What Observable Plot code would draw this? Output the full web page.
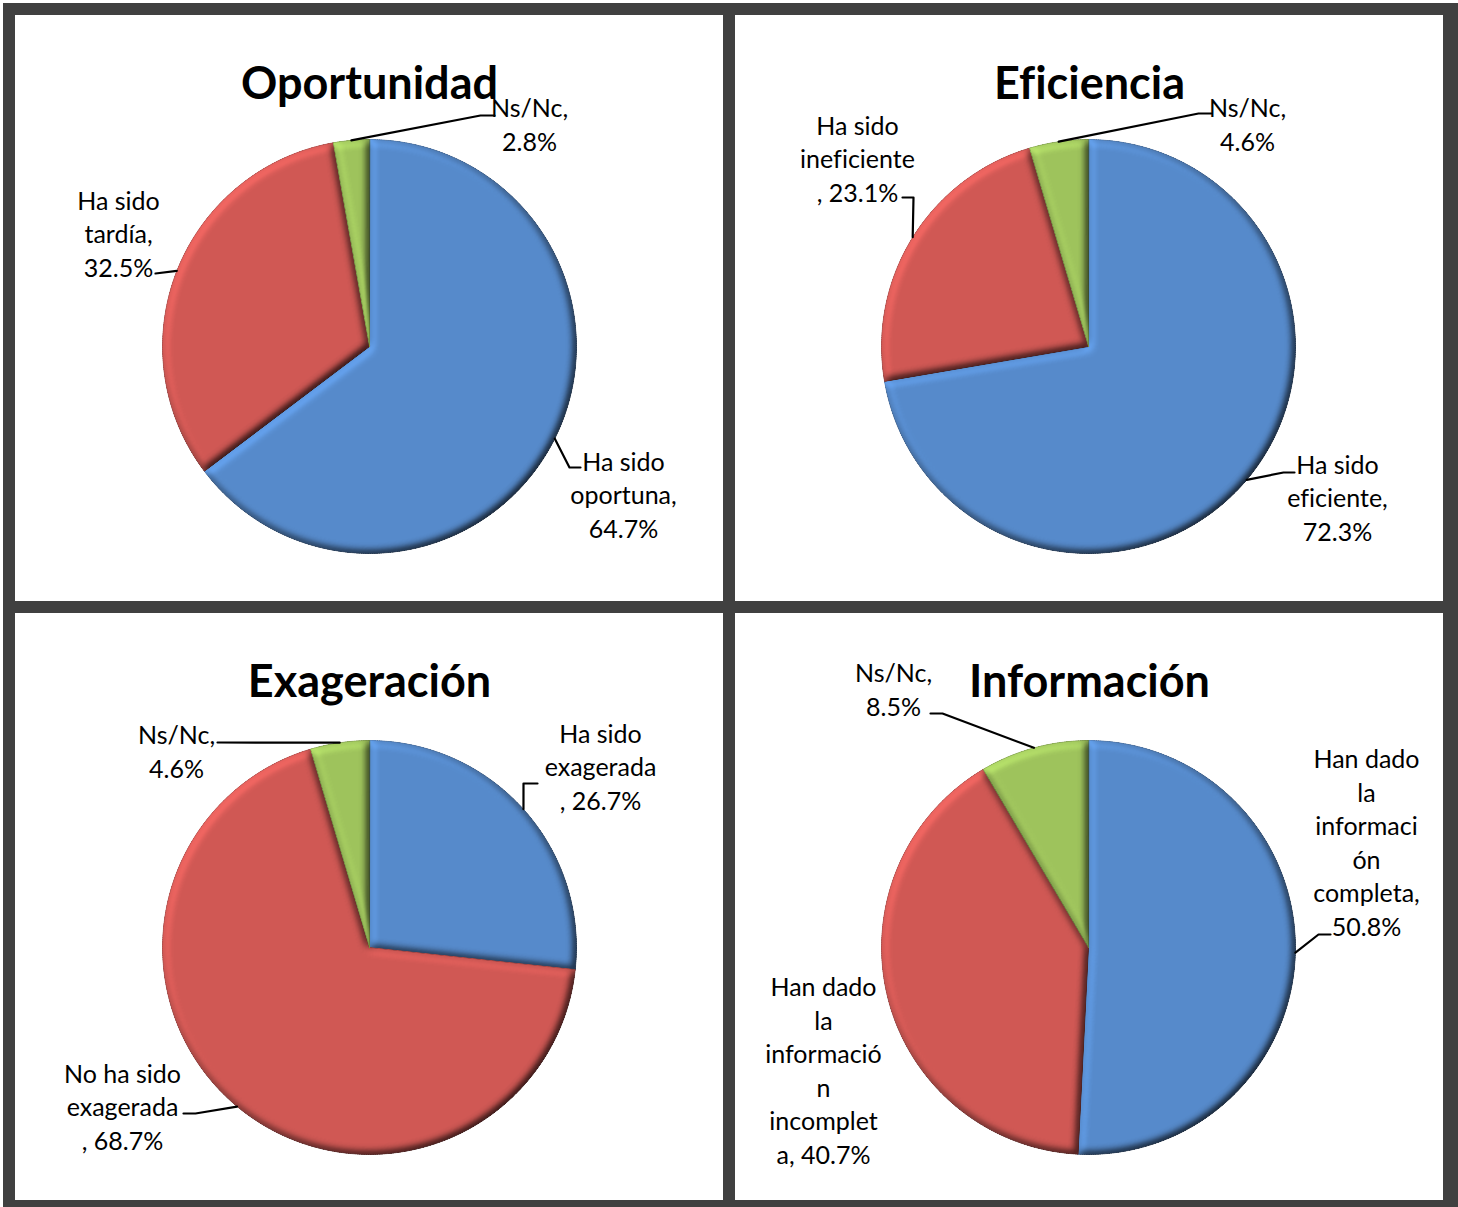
<!DOCTYPE html>
<html>
<head>
<meta charset="utf-8">
<script src="https://cdn.jsdelivr.net/npm/d3@7"></script>
<script src="https://cdn.jsdelivr.net/npm/@observablehq/plot@0.6"></script>
<style>
  html, body { margin: 0; padding: 0; background: #ffffff; }
  body { width: 1458px; height: 1207px; position: relative; overflow: hidden; }
  #frame { position: absolute; left: 3px; top: 3px; width: 1455px; height: 1204px; background: #404040; }
  .panel { position: absolute; background: #ffffff; overflow: hidden; }
  .panel svg { display: block; font-variant-ligatures: none; font-feature-settings: "liga" 0, "clig" 0; }
  .panel svg text { font-variant-ligatures: none; font-feature-settings: "liga" 0, "clig" 0; }
</style>
</head>
<body>
<svg width="0" height="0" style="position:absolute">
  <defs>
    <filter id="bevel" x="-10%" y="-10%" width="120%" height="120%" color-interpolation-filters="sRGB">
      <feGaussianBlur in="SourceAlpha" stdDeviation="4" result="blur"/>
      <feDiffuseLighting in="blur" surfaceScale="5" diffuseConstant="1" lighting-color="#ffffff" result="light">
        <feDistantLight azimuth="225" elevation="60"/>
      </feDiffuseLighting>
      <feComposite in="SourceGraphic" in2="light" operator="arithmetic" k1="1.155" k2="0" k3="0" k4="0" result="lit"/>
      <feComposite in="lit" in2="SourceAlpha" operator="in"/>
    </filter>
  </defs>
</svg>
<div id="frame"></div>
<script>
// ---------------- DATA ----------------
const chartTitles = ["Oportunidad", "Eficiencia", "Exageración", "Información"];

const categoriesOportunidad = ["Ha sido oportuna", "Ha sido tardía", "Ns/Nc"];
const valuesOportunidad = [64.7, 32.5, 2.8];

const categoriesEficiencia = ["Ha sido eficiente", "Ha sido ineficiente", "Ns/Nc"];
const valuesEficiencia = [72.3, 23.1, 4.6];

const categoriesExageracion = ["Ha sido exagerada", "No ha sido exagerada", "Ns/Nc"];
const valuesExageracion = [26.7, 68.7, 4.6];

const categoriesInformacion = ["Han dado la información completa", "Han dado la información incompleta", "Ns/Nc"];
const valuesInformacion = [50.8, 40.7, 8.5];

const allCategories = [categoriesOportunidad, categoriesEficiencia, categoriesExageracion, categoriesInformacion];
const allValues = [valuesOportunidad, valuesEficiencia, valuesExageracion, valuesInformacion];

// ---------------- STYLE / LAYOUT ----------------
const sliceColors = ["#568acb", "#d05854", "#9ec35c"];
const edgeColors = ["#4a78b2", "#b44b48", "#86a84d"];
const fontFamily = "Lato, 'Open Sans', sans-serif";
const labelSize = 25;
const titleSize = 45;

// pixel layout of each panel (relative to its panel), label centers, wrap breaks and leader elbows
const layout = [
  { left: 15, top: 15, width: 708, height: 586, cx: 354, cy: 331, r: 207,
    labels: [
      { x: 608, y: 478, breaks: [7, 9], leader: [[554, 452], [565, 452]] },
      { x: 103, y: 217, breaks: [7, 7], leader: [[140, 258]] },
      { x: 514, y: 108, breaks: [6], leader: [[465, 100], [479, 100]] }
    ] },
  { left: 735, top: 15, width: 708, height: 586, cx: 353, cy: 331, r: 207,
    labels: [
      { x: 602, y: 481, breaks: [7, 10], leader: [[548, 457], [559, 457]] },
      { x: 122, y: 142, breaks: [7, 11], leader: [[178, 182], [167, 182]] },
      { x: 512, y: 108, breaks: [6], leader: [[463, 98], [476, 98]] }
    ] },
  { left: 15, top: 613, width: 708, height: 587, cx: 354, cy: 334, r: 207,
    labels: [
      { x: 585, y: 152, breaks: [7, 9], leader: [[508, 170], [522, 170]] },
      { x: 107, y: 492, breaks: [10, 9], leader: [[180, 500], [168, 500]] },
      { x: 161, y: 137, breaks: [6], leader: [[202, 129]] }
    ] },
  { left: 735, top: 613, width: 708, height: 587, cx: 353, cy: 334, r: 207,
    labels: [
      { x: 631, y: 228, breaks: [8, 2, 9, 2, 9], leader: [[583, 321], [595, 321]] },
      { x: 88, y: 456, breaks: [8, 2, 10, 1, 9], leader: null },
      { x: 158, y: 75, breaks: [6], leader: [[207, 100], [195, 100]] }
    ] }
];

function wrapText(s, breaks) {
  const lines = [];
  let i = 0;
  for (const n of breaks) {
    lines.push(s.slice(i, i + n));
    i += n;
    if (s[i] === " ") i++;
  }
  lines.push(s.slice(i));
  return lines.join("\n");
}

const fmt = d3.format(".1f");

chartTitles.forEach((title, k) => {
  const cats = allCategories[k];
  const vals = allValues[k];
  const L = layout[k];
  const arcs = d3.pie().sort(null).value(d => d)(vals);

  // slice polygons in unit-circle coordinates (y up, clockwise from 12 o'clock)
  const slicePts = [];
  arcs.forEach((a, i) => {
    slicePts.push({ key: i, x: 0, y: 0, fill: sliceColors[i], edge: edgeColors[i] });
    const n = Math.max(2, Math.ceil((a.endAngle - a.startAngle) / (Math.PI / 360)));
    for (let j = 0; j <= n; j++) {
      const t = a.startAngle + (a.endAngle - a.startAngle) * j / n;
      slicePts.push({ key: i, x: Math.sin(t), y: Math.cos(t), fill: sliceColors[i], edge: edgeColors[i] });
    }
  });

  const toX = px => (px - L.cx) / L.r;
  const toY = py => (L.cy - py) / L.r;

  const labelData = arcs.map((a, i) => ({
    x: toX(L.labels[i].x),
    y: toY(L.labels[i].y),
    text: wrapText(`${cats[i]}, ${fmt(vals[i])}%`, L.labels[i].breaks)
  }));

  const leaderPts = [];
  arcs.forEach((a, i) => {
    const ld = L.labels[i].leader;
    if (!ld) return;
    const mid = (a.startAngle + a.endAngle) / 2;
    leaderPts.push({ key: i, x: Math.sin(mid), y: Math.cos(mid) });
    ld.forEach(([px, py]) => leaderPts.push({ key: i, x: toX(px), y: toY(py) }));
  });

  const plot = Plot.plot({
    width: L.width,
    height: L.height,
    margin: 0,
    style: { fontFamily, background: "#ffffff", color: "#000000" },
    x: { domain: [toX(0), toX(L.width)], axis: null },
    y: { domain: [toY(L.height), toY(0)], axis: null },
    color: { type: "identity" },
    marks: [
      Plot.line(slicePts, { x: "x", y: "y", z: "key", fill: "fill", stroke: "edge", strokeWidth: 1, curve: "linear-closed" }),
      Plot.line(leaderPts, { x: "x", y: "y", z: "key", stroke: "#000000", strokeWidth: 2.2 }),
      Plot.text(labelData, { x: "x", y: "y", text: "text", fontSize: labelSize, lineHeight: 1.34, textAnchor: "middle", fill: "#000000", fontFamily }),
      Plot.text([title], { text: d => d, frameAnchor: "top", lineAnchor: "middle", dy: 69, fontSize: titleSize, fontWeight: "bold", fill: "#000000", fontFamily })
    ]
  });

  plot.style.fontVariantLigatures = "none";

  // bevel look on each slice
  const sliceGroup = plot.querySelector('g[aria-label="line"]');
  if (sliceGroup) sliceGroup.querySelectorAll("path").forEach(p => p.setAttribute("filter", "url(#bevel)"));

  const div = document.createElement("div");
  div.className = "panel";
  div.style.left = L.left + "px";
  div.style.top = L.top + "px";
  div.style.width = L.width + "px";
  div.style.height = L.height + "px";
  div.appendChild(plot);
  document.body.appendChild(div);
});
</script>
</body>
</html>
